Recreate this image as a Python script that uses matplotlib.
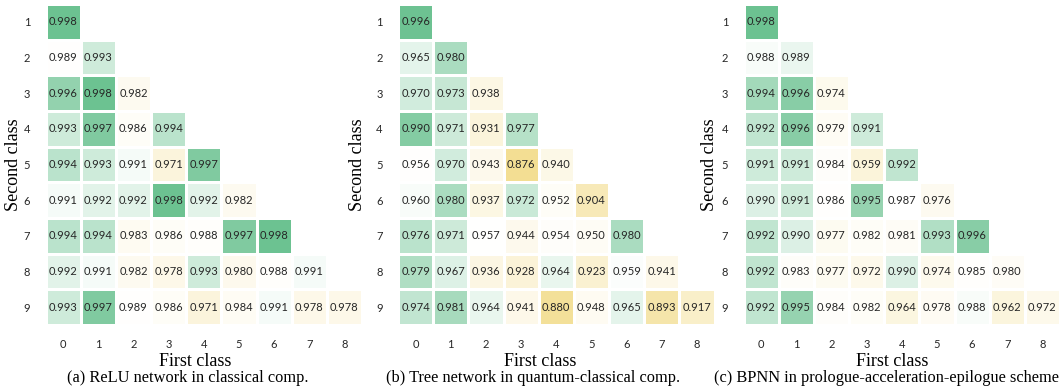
import numpy as np
import matplotlib
matplotlib.use("Agg")
import matplotlib.pyplot as plt
from matplotlib.colors import LinearSegmentedColormap, TwoSlopeNorm

first_classes = ["0", "1", "2", "3", "4", "5", "6", "7", "8"]
second_classes = ["1", "2", "3", "4", "5", "6", "7", "8", "9"]

relu_rows = [
    [0.998],
    [0.989, 0.993],
    [0.996, 0.998, 0.982],
    [0.993, 0.997, 0.986, 0.994],
    [0.994, 0.993, 0.991, 0.971, 0.997],
    [0.991, 0.992, 0.992, 0.998, 0.992, 0.982],
    [0.994, 0.994, 0.983, 0.986, 0.988, 0.997, 0.998],
    [0.992, 0.991, 0.982, 0.978, 0.993, 0.980, 0.988, 0.991],
    [0.993, 0.997, 0.989, 0.986, 0.971, 0.984, 0.991, 0.978, 0.978],
]
tree_rows = [
    [0.996],
    [0.965, 0.980],
    [0.970, 0.973, 0.938],
    [0.990, 0.971, 0.931, 0.977],
    [0.956, 0.970, 0.943, 0.876, 0.940],
    [0.960, 0.980, 0.937, 0.972, 0.952, 0.904],
    [0.976, 0.971, 0.957, 0.944, 0.954, 0.950, 0.980],
    [0.979, 0.967, 0.936, 0.928, 0.964, 0.923, 0.959, 0.941],
    [0.974, 0.981, 0.964, 0.941, 0.880, 0.948, 0.965, 0.893, 0.917],
]
bpnn_rows = [
    [0.998],
    [0.988, 0.989],
    [0.994, 0.996, 0.974],
    [0.992, 0.996, 0.979, 0.991],
    [0.991, 0.991, 0.984, 0.959, 0.992],
    [0.990, 0.991, 0.986, 0.995, 0.987, 0.976],
    [0.992, 0.990, 0.977, 0.982, 0.981, 0.993, 0.996],
    [0.992, 0.983, 0.977, 0.972, 0.990, 0.974, 0.985, 0.980],
    [0.992, 0.995, 0.984, 0.982, 0.964, 0.978, 0.988, 0.962, 0.972],
]

titles = [
    "(a) ReLU network in classical comp.",
    "(b) Tree network in quantum-classical comp.",
    "(c) BPNN in prologue-acceleration-epilogue scheme",
]
x_label = "First class"
y_label = "Second class"

# colour scaling per panel: (full yellow, white, full green)
norms = [(0.925, 0.9905, 0.998), (0.870, 0.958, 0.9965), (0.900, 0.9875, 0.998)]

cmap = LinearSegmentedColormap.from_list(
    "ywg", ["#f2dc8c", "#ffffff", "#6cc291"])

sans = ["Lato", "DejaVu Sans"]
serif = ["Liberation Serif", "DejaVu Serif"]

fig = plt.figure(figsize=(10.63, 3.89), dpi=100)
W, H = 1063, 389
lefts = [45.5, 398, 743.5]
axw = 316.5
top, bottom = 4, 325
title_cx = [187.5, 533.5, 886]
xlabel_cx = [195.5, 540, 892]
ylabel_cx = [14, 358, 710]

for k, rows in enumerate([relu_rows, tree_rows, bpnn_rows]):
    n = len(second_classes)
    mat = np.full((n, len(first_classes)), np.nan)
    for i, r in enumerate(rows):
        mat[i, :len(r)] = r
    masked = np.ma.masked_invalid(mat)
    ax = fig.add_axes([lefts[k] / W, 1 - bottom / H, axw / W, (bottom - top) / H])
    vmin, vc, vmax = norms[k]
    norm = TwoSlopeNorm(vcenter=vc, vmin=vmin, vmax=vmax)
    ax.pcolormesh(np.arange(len(first_classes) + 1), np.arange(n + 1), masked,
                  cmap=cmap, norm=norm, edgecolors="white", linewidth=1.0)
    for i, r in enumerate(rows):
        for j, v in enumerate(r):
            ax.text(j + 0.5, i + 0.5, f"{v:.3f}", ha="center", va="center",
                    fontsize=8.0, color="#262626", family=sans)
    ax.set_xlim(0, len(first_classes))
    ax.set_ylim(n, 0)
    ax.set_xticks(np.arange(len(first_classes)) + 0.5)
    ax.set_xticklabels(first_classes, family=sans, fontsize=8.0, color="#262626")
    ax.set_yticks(np.arange(n) + 0.5)
    ax.set_yticklabels(second_classes, family=sans, fontsize=8.0, color="#262626")
    ax.tick_params(length=0)
    ax.tick_params(axis="x", pad=10)
    ax.tick_params(axis="y", pad=11)
    for s in ax.spines.values():
        s.set_visible(False)
    fig.text(xlabel_cx[k] / W, 1 - 361 / H, x_label, ha="center", va="center",
             family=serif, fontsize=13)
    fig.text(ylabel_cx[k] / W, 1 - ((top + bottom) / 2) / H, y_label,
             ha="center", va="center", rotation=90, family=serif, fontsize=13)
    fig.text(title_cx[k] / W, 1 - 378 / H, titles[k], ha="center", va="center",
             family=serif, fontsize=11.8)

fig.savefig("out.png", dpi=100)
